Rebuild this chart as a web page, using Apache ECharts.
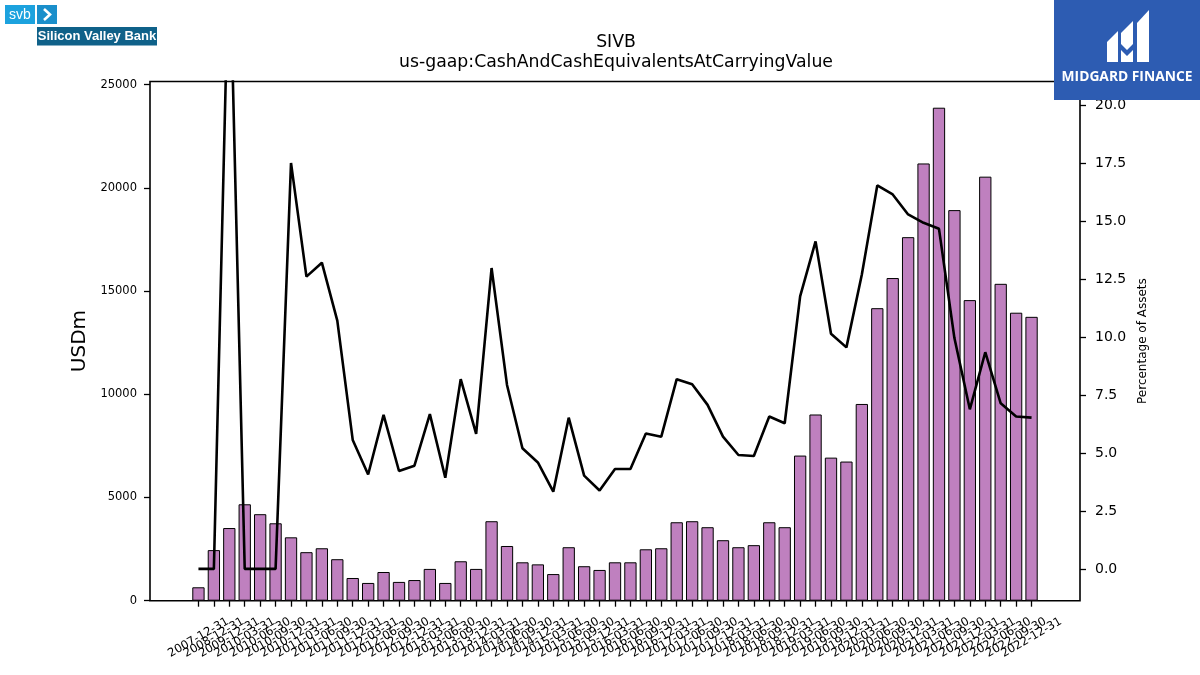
<!DOCTYPE html>
<html>
<head>
<meta charset="utf-8">
<title>SIVB cash</title>
<script src="https://cdn.jsdelivr.net/npm/echarts@6/dist/echarts.min.js"></script>
<style>
html, body { margin: 0; padding: 0; background: #fff; }
#chart { width: 1200px; height: 675px; }
</style>
</head>
<body>
<div id="chart"></div>
<script>
// quarter end dates
var periods = [
    '2007-12-31', '2008-12-31', '2009-12-31',
    '2010-03-31', '2010-06-30', '2010-09-30', '2010-12-31',
    '2011-03-31', '2011-06-30', '2011-09-30', '2011-12-31',
    '2012-03-31', '2012-06-30', '2012-09-30', '2012-12-31',
    '2013-03-31', '2013-06-30', '2013-09-30', '2013-12-31',
    '2014-03-31', '2014-06-30', '2014-09-30', '2014-12-31',
    '2015-03-31', '2015-06-30', '2015-09-30', '2015-12-31',
    '2016-03-31', '2016-06-30', '2016-09-30', '2016-12-31',
    '2017-03-31', '2017-06-30', '2017-09-30', '2017-12-31',
    '2018-03-31', '2018-06-30', '2018-09-30', '2018-12-31',
    '2019-03-31', '2019-06-30', '2019-09-30', '2019-12-31',
    '2020-03-31', '2020-06-30', '2020-09-30', '2020-12-31',
    '2021-03-31', '2021-06-30', '2021-09-30', '2021-12-31',
    '2022-03-31', '2022-06-30', '2022-09-30', '2022-12-31'
];

// cash and equivalents, USD millions
var cashUsdm = [
    650, 2450, 3520,
    4670, 4190, 3750, 3070,
    2350, 2540, 2010, 1100,
    860, 1390, 910, 1000,
    1540, 860, 1910, 1540,
    3850, 2650, 1860, 1760,
    1290, 2590, 1670, 1490,
    1860, 1860, 2490, 2540,
    3800, 3850, 3560, 2930,
    2590, 2690, 3800, 3560,
    7030, 9020, 6930, 6740,
    9530, 14170, 15630, 17610,
    21180, 23880, 18920, 14560,
    20540, 15350, 13950, 13750
];

// cash as % of total assets
var pctAssets = [
    0, 0, 27.4,
    0, 0, 0, 17.5,
    12.6, 13.2, 10.7, 5.56,
    4.07, 6.64, 4.22, 4.45,
    6.67, 3.93, 8.18, 5.82,
    12.97, 7.93, 5.2, 4.59,
    3.33, 6.52, 4.02, 3.38,
    4.31, 4.31, 5.84, 5.7,
    8.18, 7.96, 7.07, 5.7,
    4.91, 4.87, 6.57, 6.28,
    11.75, 14.12, 10.14, 9.55,
    12.69, 16.53, 16.14, 15.28,
    14.92, 14.66, 9.95, 6.88,
    9.34, 7.14, 6.57, 6.52
];

var usdTicks = [0, 5000, 10000, 15000, 20000, 25000];
var pctTicks = [0, 2.5, 5, 7.5, 10, 12.5, 15, 17.5, 20];

var X_MIN = -3.14, X_MAX = 57.14;
var idx = periods.map(function (p, i) { return i; });
// dummy entries at both ends: echarts drops the first/last label when they
// overlap a neighbour, so give it blank ones to drop instead
var xTicks = [X_MIN].concat(idx, [X_MAX]);
var barData = cashUsdm.map(function (v, i) { return [i, v]; });
var lineData = pctAssets.map(function (v, i) { return [i, v]; });

var FONT = 'DejaVu Sans';
var tickStyle = { color: '#000', width: 1.3 };
var chart = echarts.init(document.getElementById('chart'));

var option = {
    backgroundColor: '#fff',
    animation: false,
    textStyle: { fontFamily: FONT, color: '#000' },
    title: {
        text: 'SIVB',
        subtext: 'us-gaap:CashAndCashEquivalentsAtCarryingValue',
        left: 611,
        top: 28,
        textAlign: 'center',
        itemGap: 0,
        textStyle: { fontFamily: FONT, fontSize: 17.3, fontWeight: 'normal', color: '#000', lineHeight: 20 },
        subtextStyle: { fontFamily: FONT, fontSize: 17.3, color: '#000', lineHeight: 20 }
    },
    grid: {
        left: 150,
        right: 120,
        top: 81.5,
        bottom: 74.3,
        show: true,
        borderColor: '#000',
        borderWidth: 1.6,
        backgroundColor: 'transparent'
    },
    xAxis: {
        type: 'value',
        min: X_MIN,
        max: X_MAX,
        splitLine: { show: false },
        axisLine: { show: false, onZero: false },
        axisTick: {
            customValues: xTicks,
            length: 6,
            lineStyle: tickStyle
        },
        axisLabel: {
            customValues: xTicks,
            showMinLabel: false,
            showMaxLabel: false,
            rotate: 30,
            align: 'center',
            verticalAlign: 'middle',
            margin: 37,
            fontSize: 11.7,
            color: '#000',
            fontFamily: FONT,
            formatter: function (v) {
                return periods[v] !== undefined ? periods[v] : ' ';
            }
        }
    },
    yAxis: [{
        type: 'value',
        position: 'left',
        min: 0,
        max: 25150,
        name: 'USDm',
        nameLocation: 'middle',
        nameGap: 55,
        nameTextStyle: { fontSize: 20, color: '#000', fontFamily: FONT },
        splitLine: { show: false },
        axisLine: { show: false, onZero: false },
        axisTick: {
            customValues: usdTicks,
            length: 6,
            lineStyle: tickStyle
        },
        axisLabel: {
            customValues: usdTicks,
            fontSize: 11.5,
            color: '#000',
            margin: 13,
            fontFamily: FONT,
            formatter: function (v) { return String(v); }
        }
    }, {
        type: 'value',
        position: 'right',
        min: -1.37,
        max: 21.01,
        name: 'Percentage of Assets',
        nameLocation: 'middle',
        nameGap: 51,
        nameTextStyle: { fontSize: 12, color: '#000', fontFamily: FONT },
        splitLine: { show: false },
        axisLine: { show: false, onZero: false },
        axisTick: {
            customValues: pctTicks,
            length: 6,
            lineStyle: tickStyle
        },
        axisLabel: {
            customValues: pctTicks,
            fontSize: 14,
            color: '#000',
            margin: 15,
            fontFamily: FONT,
            formatter: function (v) { return v.toFixed(1); }
        }
    }],
    series: [{
        type: 'bar',
        name: 'USDm',
        yAxisIndex: 0,
        data: barData,
        barWidth: 12.3,
        itemStyle: { color: '#bf80bf', borderColor: '#000', borderWidth: 1 },
        z: 2
    }, {
        type: 'line',
        name: 'Percentage of Assets',
        yAxisIndex: 1,
        data: lineData,
        symbol: 'none',
        clip: true,
        lineStyle: { color: '#000', width: 2.6 },
        z: 3
    }],
    graphic: [
        // svb logo, top left
        { type: 'rect', shape: { x: 5, y: 5, width: 30, height: 19 }, style: { fill: '#1ca2de' }, z: 10 },
        { type: 'text', style: { x: 20, y: 15, text: 'svb', fill: '#fff', font: '14px "Liberation Sans"', textAlign: 'center', textVerticalAlign: 'middle' }, z: 11 },
        { type: 'rect', shape: { x: 37, y: 5, width: 20, height: 19 }, style: { fill: '#1a8fcb' }, z: 10 },
        { type: 'polyline', shape: { points: [[44, 9], [50, 14.5], [44, 20]] }, style: { stroke: '#fff', lineWidth: 2.6, fill: null }, z: 11 },
        { type: 'rect', shape: { x: 37, y: 27, width: 120, height: 18.5 }, style: { fill: '#0f6189' }, z: 10 },
        { type: 'text', style: { x: 97, y: 36.5, text: 'Silicon Valley Bank', fill: '#fff', font: 'bold 13px "Liberation Sans Narrow", "Liberation Sans"', textAlign: 'center', textVerticalAlign: 'middle' }, z: 11 },
        // midgard logo, top right
        { type: 'rect', shape: { x: 1054, y: 0, width: 146, height: 100 }, style: { fill: '#2d5cb2' }, z: 10 },
        { type: 'polygon', shape: { points: [[1107, 62], [1107, 42], [1118, 31], [1118, 62]] }, style: { fill: '#fff' }, z: 11 },
        { type: 'polygon', shape: { points: [[1121, 62], [1121, 33], [1133, 21], [1133, 62]] }, style: { fill: '#fff' }, z: 11 },
        { type: 'polygon', shape: { points: [[1121, 44], [1127, 50], [1133, 44], [1133, 50], [1127, 56], [1121, 50]] }, style: { fill: '#2d5cb2' }, z: 12 },
        { type: 'polygon', shape: { points: [[1137, 62], [1137, 23], [1149, 10], [1149, 62]] }, style: { fill: '#fff' }, z: 11 },
        { type: 'text', style: { x: 1127, y: 77, text: 'MIDGARD FINANCE', fill: '#fff', font: 'bold 13.8px "Open Sans", "DejaVu Sans"', textAlign: 'center', textVerticalAlign: 'middle' }, z: 11 }
    ]
};

chart.setOption(option);
</script>
</body>
</html>
